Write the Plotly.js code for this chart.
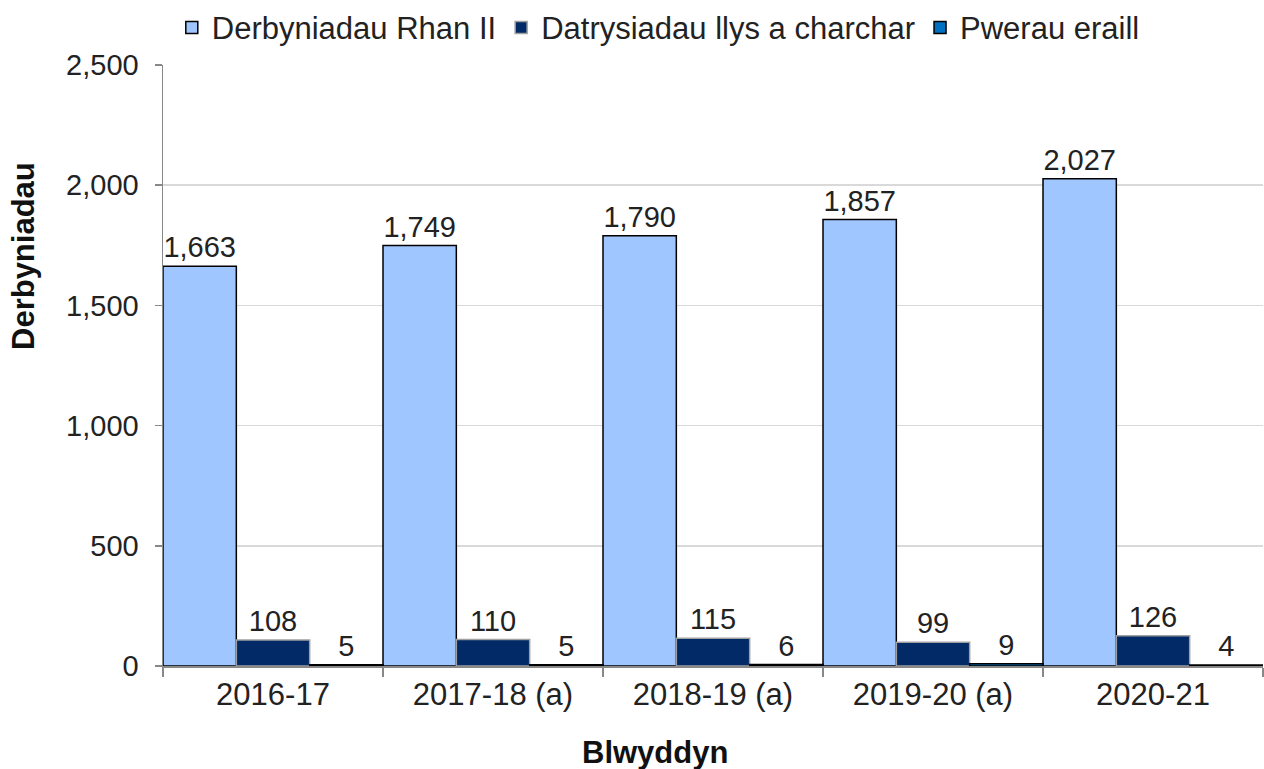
<!DOCTYPE html>
<html>
<head>
<meta charset="utf-8">
<script src="https://cdn.plot.ly/plotly-3.0.1.min.js"></script>
<style>html,body{margin:0;padding:0;background:#fff;}#chart{width:1264px;height:769px;}</style>
</head>
<body>
<div id="chart"></div>
<script>
const categories = ["2016-17", "2017-18 (a)", "2018-19 (a)", "2019-20 (a)", "2020-21"];
const seriesNames = ["Derbyniadau Rhan II", "Datrysiadau llys a charchar", "Pwerau eraill"];
const rhanII = [1663, 1749, 1790, 1857, 2027];
const llysCharchar = [108, 110, 115, 99, 126];
const pwerauEraill = [5, 5, 6, 9, 4];
const yTickVals = [0, 500, 1000, 1500, 2000, 2500];
const yTickText = ["0", "500", "1,000", "1,500", "2,000", "2,500"];
const yTitle = "Derbyniadau";
const xTitle = "Blwyddyn";

const FONT = "Liberation Sans, Arial, sans-serif";
const colors = ["#A0C6FF", "#012A66", "#0070C0"];
const outlines = ["#000000", "#a0a0a0", "#000000"];
const values = [rhanII, llysCharchar, pwerauEraill];

const traces = values.map((v, i) => ({
  type: "bar",
  name: seriesNames[i],
  x: categories,
  y: v,
  marker: { color: colors[i], line: { color: outlines[i], width: 1.5 } },
  text: v.map(n => n.toLocaleString("en-US")),
  textposition: "outside",
  textfont: { family: FONT, size: 29, color: "#222" },
  cliponaxis: false,
  hoverinfo: "none"
}));

const layout = {
  width: 1264, height: 769,
  margin: { l: 163, r: 1, t: 65, b: 103 },
  paper_bgcolor: "#fff", plot_bgcolor: "#fff",
  barmode: "group", bargap: 0, bargroupgap: 0,
  font: { family: FONT, size: 29, color: "#222" },
  showlegend: true,
  legend: {
    orientation: "h", x: 0.008, xanchor: "left", y: 1.062, yanchor: "middle",
    font: { family: FONT, size: 31, color: "#222" },
    itemwidth: 30, tracegroupgap: 0, bgcolor: "rgba(0,0,0,0)"
  },
  xaxis: {
    type: "category",
    showgrid: false, zeroline: false,
    showline: true, linecolor: "#888", linewidth: 1.5,
    ticks: "outside", tickson: "boundaries", ticklen: 9, tickcolor: "#888", tickwidth: 1.5,
    tickfont: { family: FONT, size: 31, color: "#222" },
    fixedrange: true
  },
  yaxis: {
    range: [0, 2500],
    tickvals: yTickVals, ticktext: yTickText,
    showgrid: true, gridcolor: "#d9d9d9", gridwidth: 1.5,
    zeroline: false,
    showline: true, linecolor: "#888", linewidth: 1.5,
    ticks: "outside", ticklen: 7, tickcolor: "#888", tickwidth: 1.5,
    ticklabelstandoff: 10,
    tickfont: { family: FONT, size: 29, color: "#222" },
    fixedrange: true
  },
  annotations: [
    { text: "<b>" + yTitle + "</b>", xref: "paper", yref: "paper",
      x: -163/1100 + 23/1100, y: (666-256)/601, xanchor: "center", yanchor: "middle",
      textangle: -90, showarrow: false, font: { family: FONT, size: 31, color: "#111" } },
    { text: "<b>" + xTitle + "</b>", xref: "paper", yref: "paper",
      x: (655-163)/1100, y: -(752-666)/601, xanchor: "center", yanchor: "middle",
      showarrow: false, font: { family: FONT, size: 31, color: "#111" } }
  ]
};

Plotly.newPlot("chart", traces, layout, { displayModeBar: false, staticPlot: true });
</script>
</body>
</html>
